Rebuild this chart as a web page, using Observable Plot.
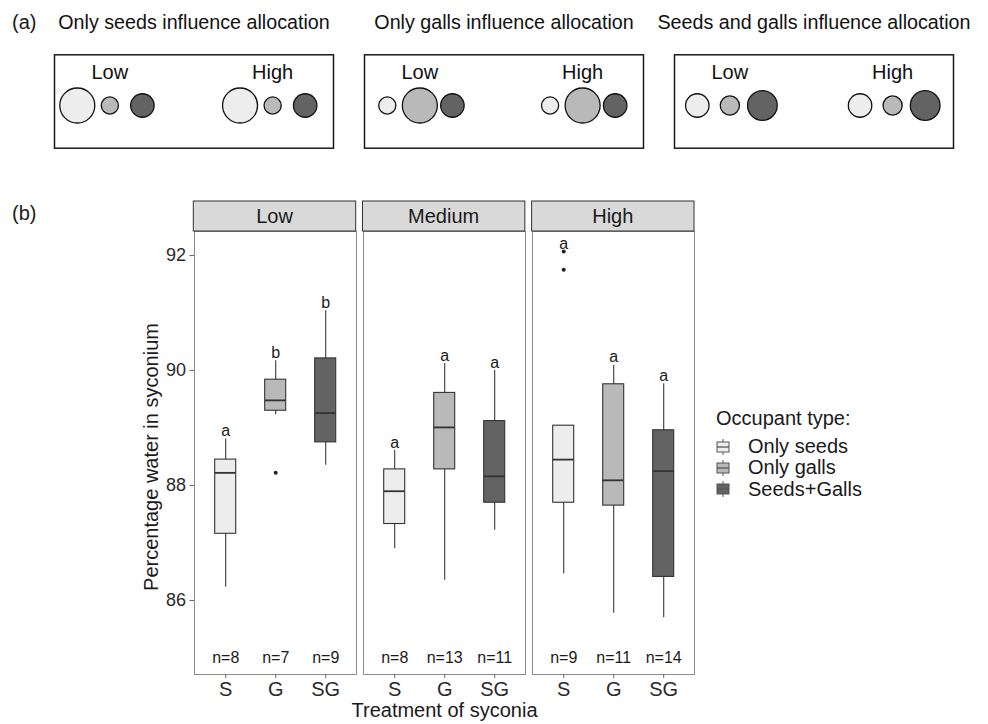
<!DOCTYPE html>
<html><head><meta charset="utf-8">
<script src="https://cdn.jsdelivr.net/npm/d3@7"></script>
<script src="https://cdn.jsdelivr.net/npm/@observablehq/plot@0.6"></script>
<style>
body{margin:0;background:#fff;font-family:"Liberation Sans",Arial,sans-serif;color:#1a1a1a;}
#wrap{position:relative;width:988px;height:724px;overflow:hidden;background:#fff;}
.abs{position:absolute;white-space:nowrap;}
</style></head><body><div id="wrap"></div>
<script>
// ---------- Panel (a) data ----------
const scenarios = ["Only seeds influence allocation", "Only galls influence allocation", "Seeds and galls influence allocation"];
const groupsA = ["Low", "High"];
const occupantTypes = ["Only seeds", "Only galls", "Seeds+Galls"];
const occupantColors = ["#ededed", "#b9b9b9", "#636363"];
// relative allocation (circle area) per scenario, one array per occupant type
const allocSeeds = [1.0, 0.24, 0.45];
const allocGalls = [0.24, 1.0, 0.30];
const allocSeedsGalls = [0.45, 0.45, 0.72];

// ---------- Panel (b) data ----------
const levels = ["Low", "Medium", "High"];
const treatments = ["S", "G", "SG"];
const whiskerLow  = [[86.23, 89.23, 88.35], [86.90, 86.35, 87.22], [86.46, 85.78, 85.70]];
const quartile1   = [[87.16, 89.30, 88.75], [87.33, 88.28, 87.70], [87.70, 87.65, 86.41]];
const medians     = [[88.22, 89.48, 89.26], [87.90, 89.01, 88.16], [88.45, 88.09, 88.25]];
const quartile3   = [[88.45, 89.84, 90.21], [88.28, 89.61, 89.12], [89.04, 89.76, 88.96]];
const whiskerHigh = [[88.81, 90.17, 91.04], [88.61, 90.12, 90.00], [89.04, 90.09, 89.77]];
const letters     = [["a", "b", "b"], ["a", "a", "a"], ["a", "a", "a"]];
const nCounts     = [[8, 7, 9], [8, 13, 11], [9, 11, 14]];
const outlierLevel = ["Low", "High", "High"];
const outlierTrt   = ["G", "S", "S"];
const outlierValue = [88.22, 92.07, 91.75];
const yTicks = [86, 88, 90, 92];

const FONT = '"Liberation Sans", Arial, sans-serif';
const wrap = document.getElementById("wrap");

// ---------- Build panel (a) ----------
const allocByType = [allocSeeds, allocGalls, allocSeedsGalls];
const rowsA = [];
const labelsA = [];
scenarios.forEach((s, si) => groupsA.forEach((g, gi) => {
  labelsA.push({scenario: s, group: g, slot: 1 + gi * 5});
  occupantTypes.forEach((t, ti) => rowsA.push({scenario: s, group: g, type: t, slot: ti + gi * 5, alloc: allocByType[ti][si]}));
}));

const plotA = Plot.plot({
  width: 988, height: 160,
  marginLeft: 53.5, marginRight: 34, marginTop: 54.3, marginBottom: 12.3,
  style: {fontFamily: FONT, background: "transparent", color: "#1a1a1a"},
  fx: {domain: scenarios, paddingInner: 0.1, paddingOuter: 0, axis: null},
  x: {domain: [-0.7, 7.87], axis: null},
  r: {type: "sqrt", domain: [0, 1], range: [0, 17.5]},
  color: {domain: occupantTypes, range: occupantColors},
  marks: [
    Plot.frame({stroke: "#1a1a1a", strokeWidth: 1.5}),
    Plot.dot(rowsA, {fx: "scenario", x: "slot", r: "alloc", fill: "type", stroke: "#111", strokeWidth: 1.3, frameAnchor: "top", dy: 50.7}),
    Plot.text(labelsA, {fx: "scenario", x: "slot", text: "group", frameAnchor: "top", lineAnchor: "middle", dy: 17.7, fontSize: 20, fill: "#111"}),
    Plot.text(scenarios, {fx: d => d, text: d => d, frameAnchor: "top", lineAnchor: "middle", textAnchor: "middle", dy: -32.6, fontSize: 19.7, fill: "#111"})
  ]
});
plotA.style.position = "absolute"; plotA.style.left = "0px"; plotA.style.top = "0px";
wrap.appendChild(plotA);

// ---------- Build panel (b) ----------
const rows = [];
levels.forEach((lv, li) => treatments.forEach((tr, ti) => {
  const outs = outlierValue.filter((v, k) => outlierLevel[k] === lv && outlierTrt[k] === tr);
  rows.push({
    level: lv, trt: tr, type: occupantTypes[ti],
    lo: whiskerLow[li][ti], q1: quartile1[li][ti], med: medians[li][ti],
    q3: quartile3[li][ti], hi: whiskerHigh[li][ti],
    top: Math.max(whiskerHigh[li][ti], ...outs),
    letter: letters[li][ti], n: nCounts[li][ti]
  });
}));
const outRows = outlierValue.map((v, k) => ({level: outlierLevel[k], trt: outlierTrt[k], value: v}));

const MT = 61;
const plotB = Plot.plot({
  width: 988, height: 554,
  marginLeft: 193.3, marginRight: 294, marginTop: MT, marginBottom: 50,
  style: {fontFamily: FONT, background: "transparent", color: "#222", fontSize: "18px"},
  fx: {domain: levels, paddingInner: 0.04, paddingOuter: 0, axis: null},
  x: {domain: treatments, paddingInner: 0.585, paddingOuter: 0.3925, align: 0.5, axis: null},
  y: {domain: [84.713, 92.417], axis: null},
  color: {domain: occupantTypes, range: occupantColors},
  marks: [
    Plot.frame({stroke: "#8c8c8c", strokeWidth: 1}),
    Plot.axisY({ticks: yTicks, tickSize: 4.5, tickPadding: 4, fontSize: 18, label: null, stroke: "#666", fill: "#2a2a2a"}),
    Plot.axisX({tickSize: 4, tickPadding: 3, fontSize: 20, label: null, stroke: "#666", fill: "#2a2a2a"}),
    Plot.ruleX(rows, {fx: "level", x: "trt", y1: "lo", y2: "hi", stroke: "#3a3a3a", strokeWidth: 1.1}),
    Plot.barY(rows, {fx: "level", x: "trt", y1: "q1", y2: "q3", fill: "type", stroke: "#333", strokeWidth: 1.1}),
    Plot.tickY(rows, {fx: "level", x: "trt", y: "med", stroke: "#333", strokeWidth: 1.8}),
    Plot.dot(outRows, {fx: "level", x: "trt", y: "value", r: 2, fill: "#222", stroke: null}),
    Plot.text(rows, {fx: "level", x: "trt", y: "top", text: "letter", dy: -8, lineAnchor: "middle", fontSize: 16, fill: "#1a1a1a"}),
    Plot.text(rows, {fx: "level", x: "trt", text: d => "n=" + d.n, frameAnchor: "bottom", lineAnchor: "middle", dy: -17, fontSize: 16, fill: "#1a1a1a"}),
    Plot.text(["Percentage water in syconium"], {fx: () => levels[0], text: d => d, frameAnchor: "left", textAnchor: "middle", lineAnchor: "middle", rotate: -90, dx: -43, dy: 4, fontSize: 20, fill: "#1a1a1a"}),
    Plot.text(["Treatment of syconia"], {fx: () => levels[1], text: d => d, frameAnchor: "bottom", textAnchor: "middle", lineAnchor: "middle", dy: 36, fontSize: 20, fill: "#1a1a1a"})
  ]
});
// facet strips (grey header boxes) placed with Plot's own fx scale
(function addStrips() {
  const fxs = plotB.scale("fx");
  const band = d3.scaleBand(fxs.domain, fxs.range).paddingInner(fxs.paddingInner ?? 0.04).paddingOuter(fxs.paddingOuter ?? 0).align(fxs.align ?? 0.5);
  const svg = d3.select(plotB);
  const g = svg.append("g").attr("aria-label", "strips");
  levels.forEach(lv => {
    g.append("rect").attr("x", band(lv)).attr("y", MT - 30).attr("width", band.bandwidth()).attr("height", 30)
      .attr("fill", "#d9d9d9").attr("stroke", "#333").attr("stroke-width", 1);
    g.append("text").attr("x", band(lv) + band.bandwidth() / 2).attr("y", MT - 15).attr("dy", "0.35em")
      .attr("text-anchor", "middle").attr("font-size", 20).attr("fill", "#1a1a1a").text(lv);
  });
})();
plotB.style.position = "absolute"; plotB.style.left = "0px"; plotB.style.top = "170px";
wrap.appendChild(plotB);

// ---------- panel tags ----------
function tag(txt, left, top) {
  const d = document.createElement("div");
  d.className = "abs"; d.textContent = txt;
  d.style.left = left + "px"; d.style.top = top + "px"; d.style.fontSize = "20px"; d.style.lineHeight = "24px";
  wrap.appendChild(d);
}
tag("(a)", 12, 10);
tag("(b)", 12, 201);

// ---------- legend ----------
const leg = document.createElement("div");
leg.className = "abs";
leg.style.left = "716px"; leg.style.top = "406px"; leg.style.fontSize = "20px"; leg.style.color = "#1a1a1a";
let html = '<div style="line-height:24px;height:30px">Occupant type:</div>';
occupantTypes.forEach((t, i) => {
  html += `<div style="display:flex;align-items:center;height:21.3px;line-height:21.3px">
    <svg width="14" height="16" style="margin-right:18px;margin-left:0px">
      <line x1="7" x2="7" y1="0" y2="16" stroke="#555" stroke-width="1"/>
      <rect x="1" y="3" width="12" height="10" fill="${occupantColors[i]}" stroke="#555" stroke-width="1"/>
      <line x1="1" x2="13" y1="8" y2="8" stroke="#555" stroke-width="1.3"/>
    </svg><span>${t}</span></div>`;
});
leg.innerHTML = html;
wrap.appendChild(leg);
</script></body></html>
